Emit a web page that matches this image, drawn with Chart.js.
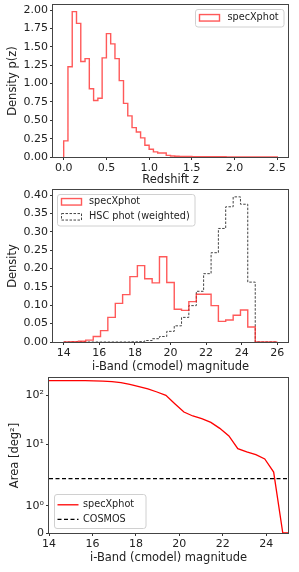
<!DOCTYPE html>
<html><head><meta charset="utf-8">
<script src="https://cdn.jsdelivr.net/npm/chart.js@4/dist/chart.umd.min.js"></script>
<style>
html,body{margin:0;padding:0;background:#fff;width:299px;height:572px;overflow:hidden}
canvas{position:absolute;left:0}
</style></head><body>
<canvas id="c1" width="299" height="187" style="top:0px"></canvas>
<canvas id="c2" width="299" height="188" style="top:187px"></canvas>
<canvas id="c3" width="299" height="197" style="top:375px"></canvas>
<script>
// ---------- Panel 1: redshift histogram ----------
const zEdges = [0.00,0.05,0.10,0.15,0.20,0.25,0.30,0.35,0.40,0.45,0.50,0.55,0.60,0.65,0.70,0.75,0.80,0.85,0.90,0.95,
  1.00,1.05,1.10,1.15,1.20,1.25,1.30,1.35,1.40,1.45,1.50,1.55,1.60,1.65,1.70,1.75,1.80,1.85,1.90,1.95,
  2.00,2.05,2.10,2.15,2.20,2.25,2.30,2.35,2.40,2.45,2.50];
const zDensity = [0.22,1.23,1.98,1.82,1.30,1.34,0.93,0.77,0.80,1.35,1.68,1.54,1.34,1.04,0.73,0.56,0.40,0.34,0.26,0.16,
  0.105,0.07,0.055,0.055,0.022,0.014,0.010,0.008,0.007,0.006,0.005,0.005,0.004,0.004,0.003,0.003,0.003,0.003,0.002,0.002,
  0.002,0.002,0.002,0.002,0.001,0.001,0.002,0.001,0.001,0.001];
const zTicks = [0,0.5,1.0,1.5,2.0,2.5];
const zTickLabels = ['0.0','0.5','1.0','1.5','2.0','2.5'];
const pTicks = [0,0.25,0.5,0.75,1.0,1.25,1.5,1.75,2.0];
const pTickLabels = ['0.00','0.25','0.50','0.75','1.00','1.25','1.50','1.75','2.00'];

// ---------- Panel 2: i-band magnitude histograms ----------
const magEdges = [14.00,14.41,14.83,15.24,15.66,16.07,16.48,16.90,17.31,17.72,18.14,18.55,18.97,19.38,19.79,
  20.21,20.62,21.03,21.45,21.86,22.28,22.69,23.10,23.52,23.93,24.34,24.76,25.17,25.59,26.00];
const specXphotMag = [0,0.001,0.002,0.005,0.015,0.031,0.067,0.105,0.129,0.178,0.208,0.172,0.161,0.232,0.162,
  0.089,0.086,0.110,0.130,0.130,0.099,0.056,0.060,0.073,0.087,0.041,0,0,0];
const hscPhotMag = [0,0,0,0,0,0,0,0,0,0.0005,0.001,0.004,0.009,0.015,0.029,
  0.044,0.067,0.099,0.138,0.186,0.243,0.309,0.368,0.395,0.375,0.163,0,0,0];
const magTicks = [14,16,18,20,22,24,26];
const magTickLabels = ['14','16','18','20','22','24','26'];
const densTicks = [0,0.05,0.10,0.15,0.20,0.25,0.30,0.35,0.40];
const densTickLabels = ['0.00','0.05','0.10','0.15','0.20','0.25','0.30','0.35','0.40'];

// ---------- Panel 3: area vs magnitude ----------
const areaMag = [14.00,14.41,14.83,15.24,15.66,16.07,16.48,16.90,17.31,17.72,18.14,18.55,18.97,19.38,19.79,
  20.21,20.62,21.03,21.45,21.86,22.28,22.69,23.10,23.52,23.93,24.34,24.76,25.17];
const areaSpecXphot = [199,199,199,199,199,198,195,190,182,168,150,135,117,100,67.6,
  45.7,37.9,33.4,28.1,21.2,14.8,8.17,6.98,6.15,5.02,2.72,0,0];
const cosmosMag = [14,25];
const cosmosArea = [2.0,2.0];
const areaMagTicks = [14,16,18,20,22,24];
const areaMagTickLabels = ['14','16','18','20','22','24'];
const areaTicks = [0,1,10,100];
const areaTickLabels = ['0','10\u2070','10\u00b9','10\u00b2'];

// ---------- helpers ----------
const FONT = '"DejaVu Sans", sans-serif';
const LINTHRESH = 2, LINSCALE_ADJ = 1/(1-1/10);
function symlog(v){ const a=Math.abs(v); if(a<=LINTHRESH) return v*LINSCALE_ADJ; return Math.sign(v)*LINTHRESH*(LINSCALE_ADJ+Math.log10(a/LINTHRESH)); }
function symexp(t){ const a=Math.abs(t); if(a<=LINTHRESH*LINSCALE_ADJ) return t/LINSCALE_ADJ; return Math.sign(t)*LINTHRESH*Math.pow(10,a/LINTHRESH-LINSCALE_ADJ); }

class SymlogScale extends Chart.LinearScale {
  static id = 'symlog';
  configure(){ super.configure(); this._tmin = symlog(this.min); this._tmax = symlog(this.max); }
  getPixelForValue(v){ if(v===null||v===undefined||isNaN(v)) return NaN; return this.getPixelForDecimal((symlog(v)-this._tmin)/(this._tmax-this._tmin)); }
  getValueForPixel(p){ const d=this.getDecimalForPixel(p); return symexp(this._tmin + d*(this._tmax-this._tmin)); }
}
Chart.register(SymlogScale);

function stepOutline(edges, vals){
  const pts=[{x:edges[0],y:0}];
  for(let i=0;i<vals.length;i++){ pts.push({x:edges[i],y:vals[i]}); pts.push({x:edges[i+1],y:vals[i]}); }
  pts.push({x:edges[edges.length-1],y:0});
  return pts;
}
function xy(xs, ys){ return xs.map((x,i)=>({x:x,y:ys[i]})); }

function axis(kind, type, min, max, ticks, labels, size, title, titlePad){
  const o = {
    type: type, min: min, max: max,
    grid: {drawOnChartArea:false, drawTicks:true, tickLength:3, tickColor:'#333', tickWidth:1},
    border: {display:false},
    ticks: {autoSkip:false, maxRotation:0, minRotation:0, padding:2, color:'#222',
      font:{family:FONT, size:11}, callback:(v,i)=>labels[i]},
    afterBuildTicks: s => { s.ticks = ticks.map(v=>({value:v})); },
    title: {display:true, text:title, color:'#222', font:{family:FONT, size:11.5}, padding:titlePad},
    afterFit: s => {
      if(kind==='x') s.height = size; else s.width = size;
      s.paddingLeft=0; s.paddingRight=0; s.paddingTop=0; s.paddingBottom=0;
    }
  };
  return o;
}

const framePlugin = { id:'frame', afterDatasetsDraw(chart){
  const {ctx, chartArea:a} = chart; ctx.save(); ctx.strokeStyle='#444'; ctx.lineWidth=1; ctx.setLineDash([]);
  ctx.strokeRect(a.left-0.5, a.top-0.5, a.right-a.left+1, a.bottom-a.top+1); ctx.restore(); } };

const legendPlugin = { id:'boxLegend', afterDraw(chart, args, o){
  const ctx = chart.ctx; ctx.save();
  const [bx,by,bw,bh] = o.box;
  ctx.beginPath(); ctx.roundRect(bx,by,bw,bh,2.5);
  ctx.fillStyle='rgba(255,255,255,0.8)'; ctx.fill();
  ctx.strokeStyle='#d0d0d0'; ctx.lineWidth=1; ctx.stroke();
  chart.data.datasets.forEach((d,i)=>{
    const y = o.y0 + i*o.dy;
    ctx.strokeStyle = d.borderColor; ctx.lineWidth = d.borderWidth; ctx.setLineDash(d.borderDash||[]);
    if(d.legendKind==='patch'){ ctx.strokeRect(o.sx, y-o.sh/2, o.sw, o.sh); }
    else { ctx.beginPath(); ctx.moveTo(o.sx,y); ctx.lineTo(o.sx+o.sw,y); ctx.stroke(); }
    ctx.setLineDash([]);
    ctx.fillStyle='#222'; ctx.font='9.7px '+FONT; ctx.textBaseline='middle'; ctx.textAlign='left';
    ctx.fillText(d.label, o.tx, y);
  });
  ctx.restore(); } };

const common = { responsive:false, animation:false, devicePixelRatio:1,
  elements:{point:{radius:0}, line:{tension:0}} };

const RED_H = 'rgba(255,25,25,0.72)';

// Panel 1
new Chart(document.getElementById('c1'), {
  type:'line',
  data:{datasets:[{label:'specXphot', legendKind:'patch', data:stepOutline(zEdges,zDensity),
    borderColor:RED_H, borderWidth:1.4, fill:false}]},
  options:Object.assign({}, common, {
    layout:{padding:{left:0,top:5,right:11,bottom:0}},
    plugins:{legend:{display:false}, tooltip:{enabled:false},
      boxLegend:{box:[195.5,9.5,88.5,17.5], y0:17.8, dy:15, sx:199.5, sw:20, sh:6.5, tx:227.5}},
    scales:{
      x: axis('x','linear',-0.125,2.625,zTicks,zTickLabels,30,'Redshift z',{top:2,bottom:0}),
      y: axis('y','linear',0,2.07,pTicks,pTickLabels,53,'Density p(z)',{top:6,bottom:0})
    }}),
  plugins:[framePlugin, legendPlugin]
});

// Panel 2
new Chart(document.getElementById('c2'), {
  type:'line',
  data:{datasets:[
    {label:'specXphot', legendKind:'patch', data:stepOutline(magEdges,specXphotMag), borderColor:RED_H, borderWidth:1.4, fill:false},
    {label:'HSC phot (weighted)', legendKind:'patch', data:stepOutline(magEdges,hscPhotMag), borderColor:'#444', borderWidth:1, borderDash:[2.5,1.5], fill:false}
  ]},
  options:Object.assign({}, common, {
    layout:{padding:{left:0,top:3,right:11,bottom:0}},
    plugins:{legend:{display:false}, tooltip:{enabled:false},
      boxLegend:{box:[57.5,7.5,137.5,31.5], y0:14.8, dy:15, sx:61.5, sw:20, sh:6.5, tx:89}},
    scales:{
      x: axis('x','linear',13.4,26.6,magTicks,magTickLabels,33,'i-Band (cmodel) magnitude',{top:2,bottom:1.5}),
      y: axis('y','linear',0,0.4137,densTicks,densTickLabels,53,'Density',{top:6,bottom:0})
    }}),
  plugins:[framePlugin, legendPlugin]
});

// Panel 3
new Chart(document.getElementById('c3'), {
  type:'line',
  data:{datasets:[
    {label:'specXphot', legendKind:'line', data:xy(areaMag,areaSpecXphot), borderColor:'#ff0000', borderWidth:1.3, fill:false},
    {label:'COSMOS', legendKind:'line', data:xy(cosmosMag,cosmosArea), borderColor:'#000', borderWidth:1.2, borderDash:[4,2.5], fill:false}
  ]},
  options:Object.assign({}, common, {
    layout:{padding:{left:0,top:3,right:11,bottom:0}},
    plugins:{legend:{display:false}, tooltip:{enabled:false},
      boxLegend:{box:[54.5,119.5,91.5,34], y0:129.8, dy:14.6, sx:57.5, sw:21, sh:6.5, tx:83}},
    scales:{
      x: axis('x','linear',14,25,areaMagTicks,areaMagTickLabels,39,'i-Band (cmodel) magnitude',{top:2,bottom:7}),
      y: axis('y','symlog',0,226,areaTicks,areaTickLabels,49,'Area [deg\u00b2]',{top:8.5,bottom:0})
    }}),
  plugins:[framePlugin, legendPlugin]
});
</script>
</body></html>
